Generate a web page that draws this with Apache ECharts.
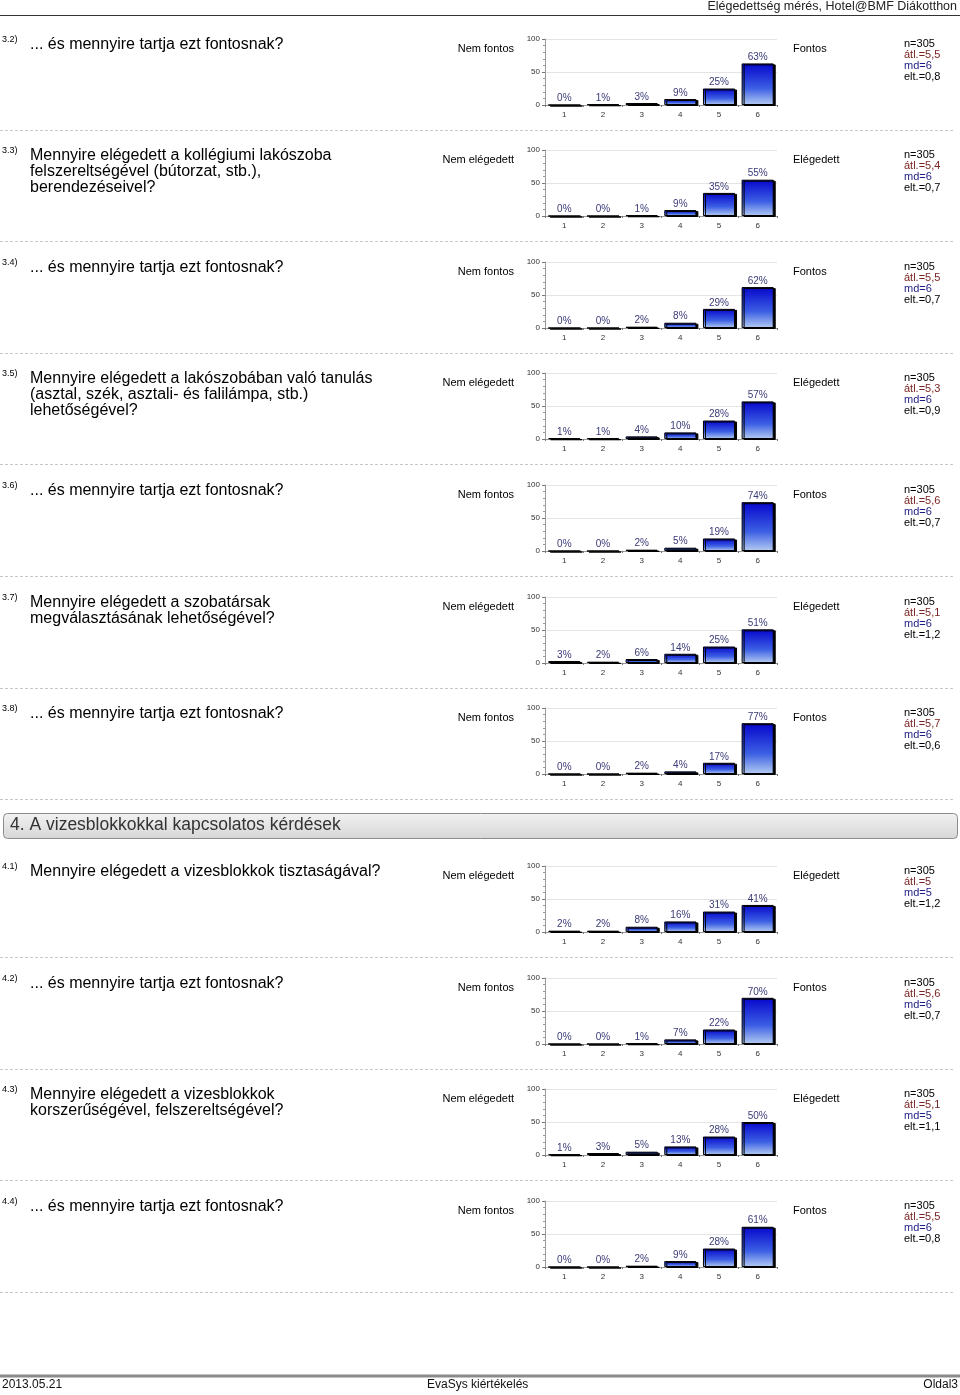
<!DOCTYPE html>
<html>
<head>
<meta charset="utf-8">
<script src="https://cdn.jsdelivr.net/npm/echarts@6/dist/echarts.min.js"></script>
<style>
html,body{margin:0;padding:0;background:#fff;}
#c{width:960px;height:1395px;}
</style>
</head>
<body>
<div id="c"></div>
<script>
// ---- data ----
const categories = ['1', '2', '3', '4', '5', '6'];
const yTicks = [0, 50, 100];
const questionIds = ['3.2)', '3.3)', '3.4)', '3.5)', '3.6)', '3.7)', '3.8)', '4.1)', '4.2)', '4.3)', '4.4)'];
const FONTOS = '... és mennyire tartja ezt fontosnak?';
const questionTexts = [
  [FONTOS],
  ['Mennyire elégedett a kollégiumi lakószoba', 'felszereltségével (bútorzat, stb.),', 'berendezéseivel?'],
  [FONTOS],
  ['Mennyire elégedett a lakószobában való tanulás', '(asztal, szék, asztali- és falilámpa, stb.)', 'lehetőségével?'],
  [FONTOS],
  ['Mennyire elégedett a szobatársak', 'megválasztásának lehetőségével?'],
  [FONTOS],
  ['Mennyire elégedett a vizesblokkok tisztaságával?'],
  [FONTOS],
  ['Mennyire elégedett a vizesblokkok', 'korszerűségével, felszereltségével?'],
  [FONTOS]
];
const leftPoles  = ['Nem fontos', 'Nem elégedett', 'Nem fontos', 'Nem elégedett', 'Nem fontos', 'Nem elégedett', 'Nem fontos', 'Nem elégedett', 'Nem fontos', 'Nem elégedett', 'Nem fontos'];
const rightPoles = ['Fontos', 'Elégedett', 'Fontos', 'Elégedett', 'Fontos', 'Elégedett', 'Fontos', 'Elégedett', 'Fontos', 'Elégedett', 'Fontos'];
const q32 = [0, 1, 3, 9, 25, 63];
const q33 = [0, 0, 1, 9, 35, 55];
const q34 = [0, 0, 2, 8, 29, 62];
const q35 = [1, 1, 4, 10, 28, 57];
const q36 = [0, 0, 2, 5, 19, 74];
const q37 = [3, 2, 6, 14, 25, 51];
const q38 = [0, 0, 2, 4, 17, 77];
const q41 = [2, 2, 8, 16, 31, 41];
const q42 = [0, 0, 1, 7, 22, 70];
const q43 = [1, 3, 5, 13, 28, 50];
const q44 = [0, 0, 2, 9, 28, 61];
const seriesValues = [q32, q33, q34, q35, q36, q37, q38, q41, q42, q43, q44];
const statN   = ['305', '305', '305', '305', '305', '305', '305', '305', '305', '305', '305'];
const statAvg = ['5,5', '5,4', '5,5', '5,3', '5,6', '5,1', '5,7', '5', '5,6', '5,1', '5,5'];
const statMd  = ['6', '6', '6', '6', '6', '6', '6', '5', '6', '5', '6'];
const statSd  = ['0,8', '0,7', '0,7', '0,9', '0,7', '1,2', '0,6', '1,2', '0,7', '1,1', '0,8'];
const headerText = 'Elégedettség mérés, Hotel@BMF Diákotthon';
const sectionTitle = '4. A vizesblokkokkal kapcsolatos kérdések';
const footerLeft = '2013.05.21';
const footerMid = 'EvaSys kiértékelés';
const footerRight = 'Oldal3';

// ---- layout ----
const gridTops = [39, 150, 262, 373, 485, 597, 708, 866, 978, 1089, 1201];
const FONT = '"Liberation Sans", Arial, sans-serif';

const grids = [], xAxes = [], yAxes = [], series = [], graphics = [];

gridTops.forEach((top, i) => {
  grids.push({left: 545, top: top, width: 232, height: 66, containLabel: false});
  xAxes.push({
    type: 'category', gridIndex: i, data: categories,
    axisLine: {show: true, lineStyle: {color: '#9a9a9a', width: 1}},
    axisTick: {show: true, length: 2, lineStyle: {color: '#777'}},
    axisLabel: {fontSize: 8, color: '#333', margin: 6, fontFamily: FONT}
  });
  yAxes.push({
    type: 'value', gridIndex: i, min: yTicks[0], max: yTicks[yTicks.length - 1], interval: yTicks[1] - yTicks[0],
    axisLine: {show: true, lineStyle: {color: '#9a9a9a', width: 1}},
    axisTick: {show: true, length: 3, lineStyle: {color: '#777'}},
    minorTick: {show: true, splitNumber: 5, length: 2, lineStyle: {color: '#999'}},
    splitLine: {show: true, lineStyle: {color: '#e4e4e4', width: 1}},
    axisLabel: {fontSize: 8, color: '#333', margin: 5, fontFamily: FONT}
  });
  series.push({
    type: 'bar', xAxisIndex: i, yAxisIndex: i, data: seriesValues[i],
    barCategoryGap: '17%',
    itemStyle: {
      color: new echarts.graphic.LinearGradient(0, 0, 0, 1, [
        {offset: 0, color: '#0606cc'},
        {offset: 0.6, color: '#3c5fe4'},
        {offset: 1, color: '#b4ccf2'}
      ]),
      borderColor: '#000', borderWidth: 1,
      shadowColor: '#000', shadowOffsetX: 2, shadowOffsetY: 1, shadowBlur: 0
    },
    label: {
      show: true, position: 'top', distance: 1, formatter: '{c}%',
      fontSize: 10, color: '#3a3a78', fontFamily: FONT
    }
  });

  // question id tag
  graphics.push({type: 'text', left: 2, top: top - 4,
    style: {text: questionIds[i], font: '9px ' + FONT, fill: '#000'}});
  // question text
  graphics.push({type: 'text', left: 30, top: top - 2,
    style: {text: questionTexts[i].join('\n'), font: '16px ' + FONT, fill: '#000', lineHeight: 16}});
  // left pole
  graphics.push({type: 'text', right: 960 - 514, top: top + 4,
    style: {text: leftPoles[i], font: '11px ' + FONT, fill: '#000', align: 'right'}});
  // right pole
  graphics.push({type: 'text', left: 793, top: top + 4,
    style: {text: rightPoles[i], font: '11px ' + FONT, fill: '#000'}});
  // stats
  const statLines = [
    ['n=' + statN[i], '#000'],
    ['átl.=' + statAvg[i], '#7a2424'],
    ['md=' + statMd[i], '#1c1c84'],
    ['elt.=' + statSd[i], '#000']
  ];
  statLines.forEach((s, k) => {
    graphics.push({type: 'text', left: 904, top: top - 1 + k * 11,
      style: {text: s[0], font: '11px ' + FONT, fill: s[1]}});
  });
  // separator
  graphics.push({type: 'line', shape: {x1: 0, y1: top + 91.5, x2: 955, y2: top + 91.5},
    style: {stroke: '#c8c8c8', lineWidth: 1, lineDash: [3, 2]}});
});

// header
graphics.push({type: 'text', right: 3, top: 0,
  style: {text: headerText, font: '12.5px ' + FONT, fill: '#222', align: 'right'}});
graphics.push({type: 'line', shape: {x1: 0, y1: 15.5, x2: 960, y2: 15.5},
  style: {stroke: '#333', lineWidth: 1}});

// section header
graphics.push({type: 'rect', shape: {x: 3.5, y: 813.5, width: 954, height: 25, r: 4},
  style: {
    fill: new echarts.graphic.LinearGradient(0, 0, 0, 1, [
      {offset: 0, color: '#f2f2f2'}, {offset: 1, color: '#d6d6d6'}
    ]),
    stroke: '#8c8c8c', lineWidth: 1
  }});
graphics.push({type: 'text', left: 10, top: 816,
  style: {text: sectionTitle, font: '17.5px ' + FONT, fill: '#333'}});

// footer
graphics.push({type: 'line', shape: {x1: 0, y1: 1376, x2: 960, y2: 1376},
  style: {stroke: '#8a8a8a', lineWidth: 3}});
graphics.push({type: 'text', left: 2, top: 1379,
  style: {text: footerLeft, font: '12px ' + FONT, fill: '#111'}});
graphics.push({type: 'text', left: 427, top: 1379,
  style: {text: footerMid, font: '12px ' + FONT, fill: '#111'}});
graphics.push({type: 'text', right: 2, top: 1379,
  style: {text: footerRight, font: '12px ' + FONT, fill: '#111', align: 'right'}});

const chart = echarts.init(document.getElementById('c'), null, {renderer: 'canvas'});
chart.setOption({
  animation: false,
  backgroundColor: '#fff',
  grid: grids, xAxis: xAxes, yAxis: yAxes, series: series,
  graphic: graphics
});
</script>
</body>
</html>
